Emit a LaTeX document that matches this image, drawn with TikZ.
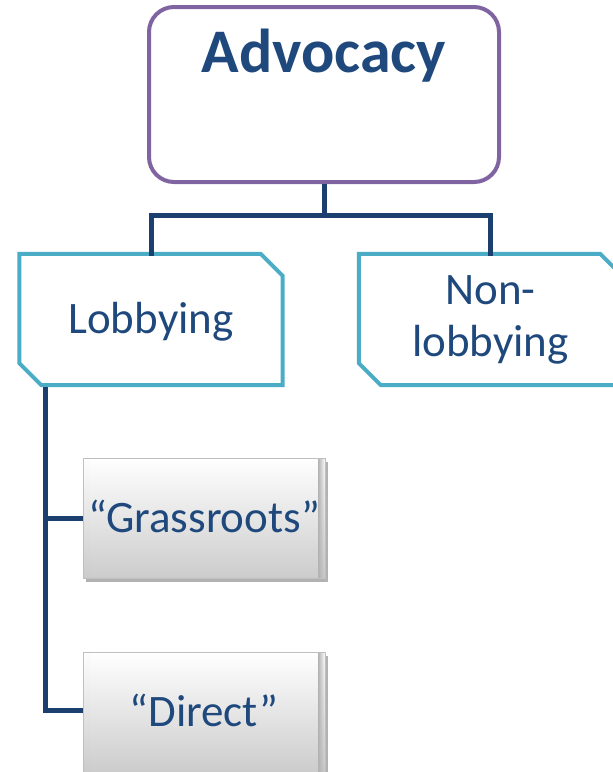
\documentclass[tikz,border=0pt]{standalone}
\usepackage{fontspec}
\setmainfont{Carlito}
\usetikzlibrary{shadows,fadings}
\definecolor{navy}{HTML}{1F497D}
\definecolor{linenavy}{HTML}{1B3F6E}
\definecolor{purp}{HTML}{8064A2}
\definecolor{tealb}{HTML}{4BACC6}
\begin{document}
\begin{tikzpicture}[x=1pt,y=-1pt,
  conn/.style={draw=linenavy, line width=5pt},
  topbox/.style={draw=purp, line width=4pt, rounded corners=25pt, minimum width=350pt, minimum height=175pt, inner sep=0pt},
  toptext/.style={anchor=base, text=navy, inner sep=0pt, font=\fontsize{62}{70}\selectfont\bfseries},
  snipbox/.style={minimum width=263pt, minimum height=131pt, inner sep=0pt, align=center, text=navy, font=\fontsize{45}{52}\selectfont},
  snipline/.style={draw=tealb, line width=4pt, line join=miter},
  graybox/.style={draw=black!25, line width=0.6pt, top color=white, bottom color=black!20, minimum width=242pt, minimum height=120pt, inner sep=0pt, text=navy, text height=28pt, text depth=0pt, font=\fontsize{45}{52}\selectfont,
    drop shadow={shadow xshift=3pt, shadow yshift=-4pt, opacity=0.3, fill=black},
    path picture={
      \fill[black!30, path fading=west] (path picture bounding box.north west) rectangle ([xshift=7pt]path picture bounding box.south west);
      \fill[black!30, path fading=east] ([xshift=-7pt]path picture bounding box.north east) rectangle (path picture bounding box.south east);
    }}]
\useasboundingbox (0,0) rectangle (613,772);
\clip (0,0) rectangle (613,772);
% top box
\node[topbox] (adv) at (324,94.5) {};
\node[toptext] (advt) at (324,72) {Advocacy};
% second level
\node[snipbox, text height=27pt, text depth=0pt] (lob) at (151,319.5) {Lobbying};
\node[snipbox] (non) at (490.5,319.5) {Non-\\lobbying};
\foreach \n in {lob,non}{
  \draw[snipline] (\n.north west) -- ([xshift=-22pt]\n.north east) -- ([yshift=-22pt]\n.north east)
    -- (\n.south east) -- ([xshift=22pt]\n.south west) -- ([yshift=22pt]\n.south west) -- cycle;
}
% third level
\node[graybox] (gr) at (204,518) {“Grassroots”};
\node[graybox] (dir) at (204,712) {“Direct”};
% connectors
\coordinate (j) at (324,215);
\coordinate (ltop) at (45.5,387);
\draw[conn] (adv.south) -- (j);
\draw[conn] ([yshift=-2pt]lob.north) |- (j) -| ([yshift=-2pt]non.north);
\draw[conn] (ltop) |- (gr.west);
\draw[conn] (ltop) |- ([yshift=2pt]dir.west);
\end{tikzpicture}
\end{document}
